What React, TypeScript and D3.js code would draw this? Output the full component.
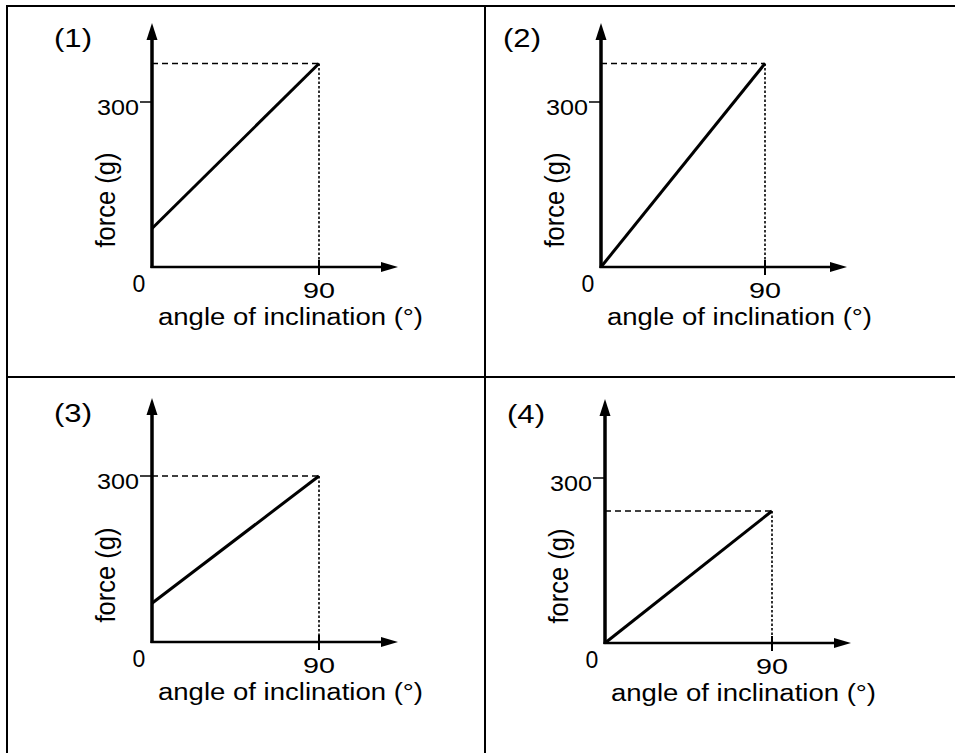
import React from 'react';
import * as d3 from 'd3';

// values
const panelLabels = ['(1)', '(2)', '(3)', '(4)'];
const forceAtZero = [70, 0, 70, 0];
const forceAtNinety = [370, 370, 300, 240];
const angleTicks = [0, 90];
const forceTicks = [300];
const xTitle = 'angle of inclination (°)';
const yTitle = 'force (g)';

// pixel anchors of each panel: where 0 and 90 / 0 and 300 sit
const layouts = [
  { x0: 152, x90: 319, y0: 267, y300: 102 },
  { x0: 601, x90: 765, y0: 267, y300: 102 },
  { x0: 152, x90: 319, y0: 642, y300: 476 },
  { x0: 605, x90: 772, y0: 643, y300: 478 },
];

const W = 955;
const H = 753;
const font = '"Liberation Sans", Arial, Helvetica, sans-serif';

const Panel = ({ i }: { i: number }) => {
  const l = layouts[i];
  const x = d3.scaleLinear().domain([0, 90]).range([l.x0, l.x90]);
  const y = d3.scaleLinear().domain([0, 300]).range([l.y0, l.y300]);
  const xTip = l.x0 + 246;
  const yTip = l.y0 - 244;

  const line = d3.line<[number, number]>().x(d => x(d[0])).y(d => y(d[1]));
  const pts: [number, number][] = [[0, forceAtZero[i]], [90, forceAtNinety[i]]];
  const endY = y(forceAtNinety[i]);

  return (
    <g>
      {/* guide lines */}
      <line x1={x(0)} x2={x(90)} y1={endY} y2={endY} stroke="#000" strokeWidth={1.6} strokeDasharray="6,4" />
      <line x1={x(90)} x2={x(90)} y1={endY} y2={y(0)} stroke="#000" strokeWidth={1.6} strokeDasharray="2.5,2" />

      {/* axes */}
      <line x1={l.x0} x2={l.x0} y1={l.y0 + 1} y2={yTip + 12} stroke="#000" strokeWidth={3.5} />
      <path d={`M${l.x0},${yTip} L${l.x0 - 5.5},${yTip + 17} L${l.x0 + 5.5},${yTip + 17} Z`} fill="#000" />
      <line x1={l.x0 - 1.5} x2={xTip - 12} y1={l.y0} y2={l.y0} stroke="#000" strokeWidth={2.5} />
      <path d={`M${xTip},${l.y0} L${xTip - 17},${l.y0 - 5} L${xTip - 17},${l.y0 + 5} Z`} fill="#000" />

      {/* ticks */}
      {forceTicks.map(t => (
        <g key={t}>
          <line x1={l.x0 - 12} x2={l.x0} y1={y(t)} y2={y(t)} stroke="#000" strokeWidth={1.5} />
          <text x={l.x0 - 55} y={y(t) + 13} fontSize={22} textLength={42} lengthAdjust="spacingAndGlyphs">{t}</text>
        </g>
      ))}
      {angleTicks.map(t =>
        t === 0 ? (
          <text key={t} x={x(t) - 13} y={l.y0 + 25} fontSize={23} textAnchor="middle">{t}</text>
        ) : (
          <g key={t}>
            <line x1={x(t)} x2={x(t)} y1={l.y0 - 7} y2={l.y0 + 8} stroke="#000" strokeWidth={2} />
            <text x={x(t) - 16} y={l.y0 + 31} fontSize={22} textLength={32} lengthAdjust="spacingAndGlyphs">{t}</text>
          </g>
        )
      )}

      {/* data line */}
      <path d={line(pts) ?? ''} fill="none" stroke="#000" strokeWidth={3} />

      {/* titles */}
      <text x={l.x0 + 6} y={l.y0 + 58} fontSize={23} textLength={265} lengthAdjust="spacingAndGlyphs">{xTitle}</text>
      <text
        transform={`translate(${l.x0 - 37},${l.y0 - 67}) rotate(-90)`}
        textAnchor="middle"
        fontSize={27}
        textLength={95}
        lengthAdjust="spacingAndGlyphs"
      >
        {yTitle}
      </text>
      <text x={l.x0 - 98} y={l.y0 - 220} fontSize={25} textLength={38} lengthAdjust="spacingAndGlyphs">{panelLabels[i]}</text>
    </g>
  );
};

export default function App() {
  return (
    <svg
      width={W}
      height={H}
      style={{ position: 'absolute', left: 0, top: 0, background: '#fff' }}
      fontFamily={font}
      fill="#000"
      stroke="none"
    >
      <rect width={W} height={H} fill="#fff" />
      {/* grid frame */}
      <line x1={6} x2={W} y1={6} y2={6} stroke="#000" strokeWidth={2} />
      <line x1={7} x2={7} y1={5} y2={H} stroke="#000" strokeWidth={2} />
      <line x1={485} x2={485} y1={5} y2={H} stroke="#000" strokeWidth={2} />
      <line x1={7} x2={W} y1={377} y2={377} stroke="#000" strokeWidth={2} />
      <g style={{ paintOrder: 'stroke' }}>
        {layouts.map((_, i) => (
          <Panel key={i} i={i} />
        ))}
      </g>
    </svg>
  );
}
